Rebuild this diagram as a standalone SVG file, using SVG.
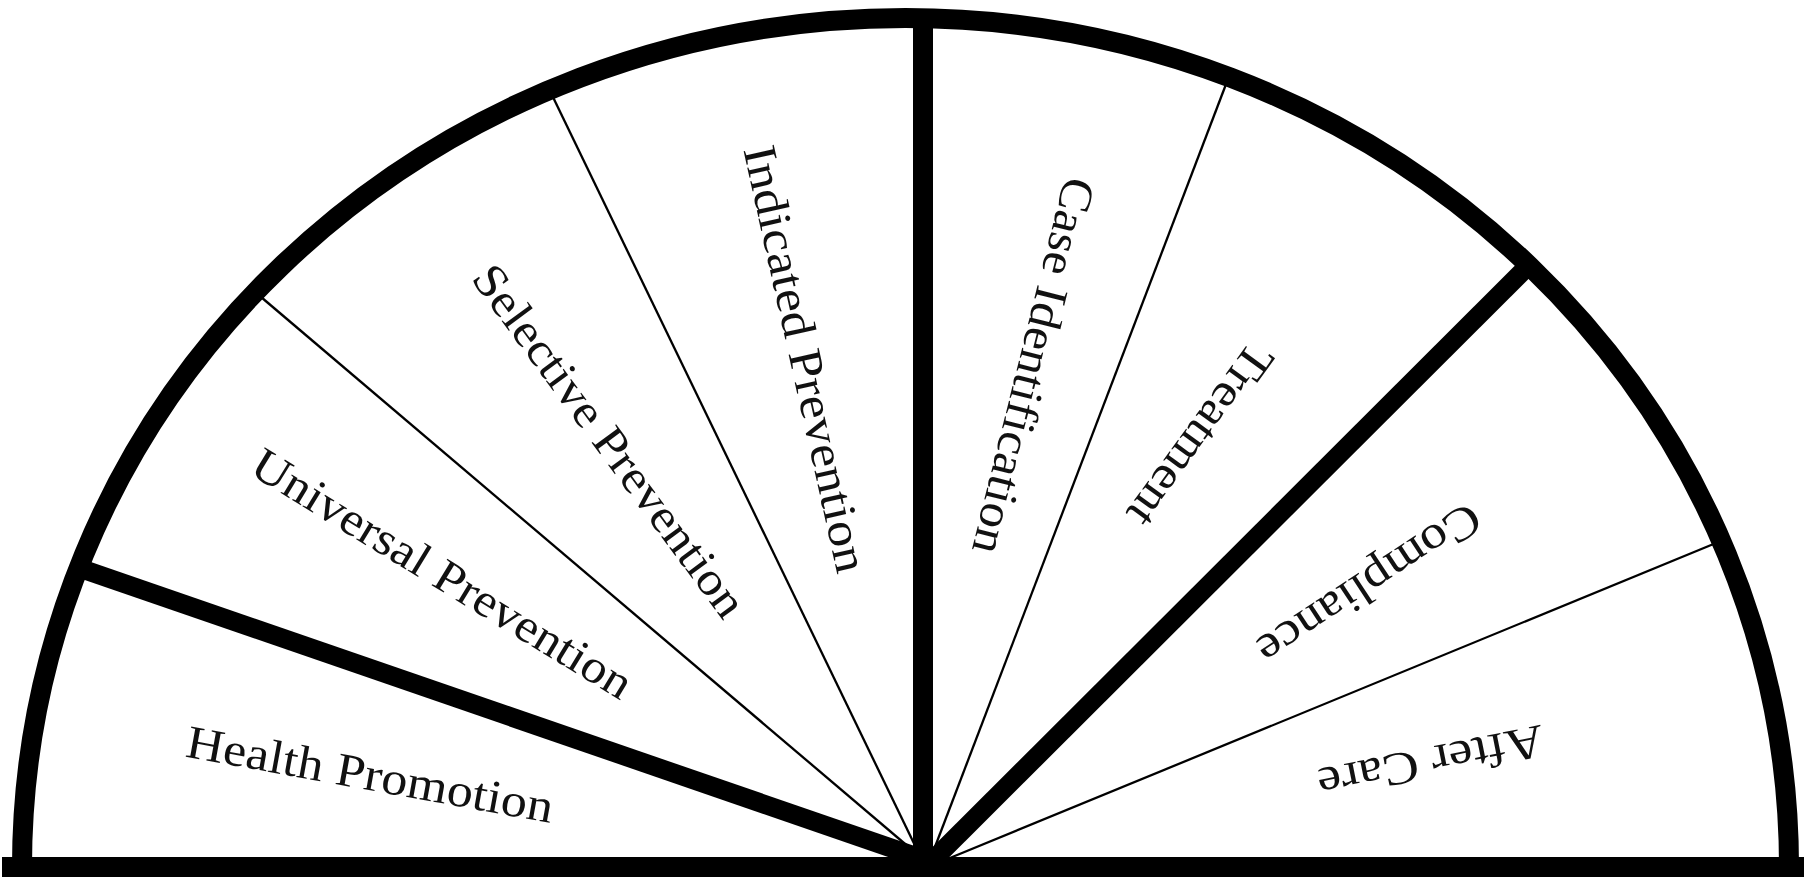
<svg xmlns="http://www.w3.org/2000/svg" width="1806" height="877" viewBox="0 0 1806 877">
  <style>
    .outline { fill: none; stroke: #000; stroke-width: 20; }
    .thick { stroke: #000; stroke-width: 19; stroke-linecap: butt; }
    .thin { stroke: #000; stroke-width: 2.3; }
    .label { font-family: "Liberation Serif", "DejaVu Serif", serif; font-size: 47px; fill: #111; text-anchor: middle; }
  </style>
  <rect x="0" y="0" width="1806" height="877" fill="#fff"/>
  <g id="dividers">
    <line class="thick" x1="82" y1="569" x2="926" y2="860"/>
    <line class="thin" x1="261" y1="297" x2="924" y2="860"/>
    <line class="thin" x1="551" y1="93" x2="922" y2="860"/>
    <line class="thin" x1="1228" y1="79" x2="930" y2="860"/>
    <line class="thick" x1="1523" y1="271" x2="933" y2="860"/>
    <line class="thin" x1="1716" y1="543" x2="945" y2="860"/>
    <line class="thick" x1="923" y1="20" x2="923" y2="867" style="stroke-width:20"/>
  </g>
  <g id="outline">
    <path class="outline" d="M 22 867 A 883.5 849 0 0 1 1789 867"/>
    <line x1="2" y1="867" x2="1804" y2="867" stroke="#000" stroke-width="20"/>
  </g>
  <g id="health-promotion">
    <text class="label" transform="translate(370,775) rotate(10.3)" x="0" y="15" textLength="372" lengthAdjust="spacingAndGlyphs">Health Promotion</text>
  </g>
  <g id="universal-prevention">
    <text class="label" transform="translate(442,574) rotate(31.4)" x="0" y="15" textLength="437" lengthAdjust="spacingAndGlyphs">Universal Prevention</text>
  </g>
  <g id="selective-prevention">
    <text class="label" transform="translate(609,441) rotate(53.5)" x="0" y="15" textLength="426" lengthAdjust="spacingAndGlyphs">Selective Prevention</text>
  </g>
  <g id="indicated-prevention">
    <text class="label" transform="translate(805,359) rotate(77.5)" x="0" y="15" textLength="436" lengthAdjust="spacingAndGlyphs">Indicated Prevention</text>
  </g>
  <g id="case-identification">
    <text class="label" transform="translate(1033,366) rotate(104)" x="0" y="15" textLength="386" lengthAdjust="spacingAndGlyphs">Case Identification</text>
  </g>
  <g id="treatment">
    <text class="label" transform="translate(1200,435) rotate(126)" x="0" y="15" textLength="214" lengthAdjust="spacingAndGlyphs">Treatment</text>
  </g>
  <g id="compliance">
    <text class="label" transform="translate(1369,584) rotate(146.7)" x="0" y="15" textLength="258" lengthAdjust="spacingAndGlyphs">Compliance</text>
  </g>
  <g id="after-care">
    <text class="label" transform="translate(1431,762) rotate(168.7)" x="0" y="15" textLength="230" lengthAdjust="spacingAndGlyphs">After Care</text>
  </g>
</svg>
